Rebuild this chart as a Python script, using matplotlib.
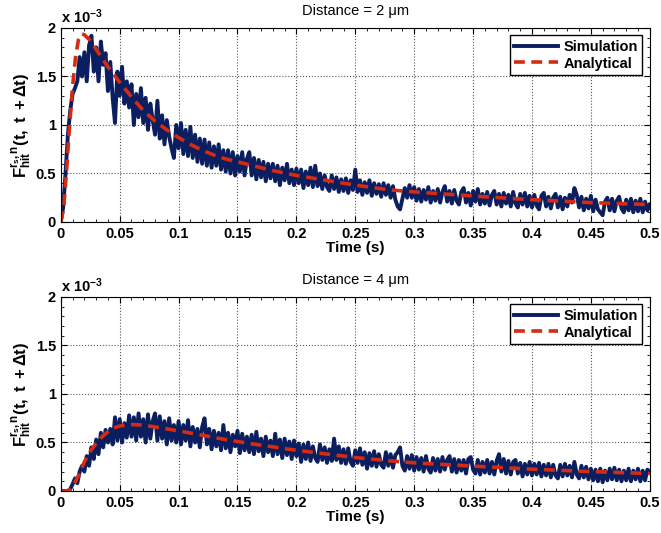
import numpy as np
import matplotlib
matplotlib.use("Agg")
import matplotlib.pyplot as plt
from matplotlib.ticker import MultipleLocator

plt.rcParams['font.family'] = ['Liberation Sans', 'DejaVu Sans']
plt.rcParams['mathtext.fontset'] = 'custom'
plt.rcParams['mathtext.rm'] = 'Liberation Sans'
plt.rcParams['mathtext.bf'] = 'Liberation Sans:bold'
plt.rcParams['mathtext.it'] = 'Liberation Sans:italic'

# simulation sampled every 2 ms, values in units of 1e-3
dt = 0.002
sim_2um = [
    0.0, 0.15, 0.5, 0.9, 1.15, 1.32, 1.38, 1.45, 1.70, 1.50,
    1.75, 1.45, 1.82, 1.92, 1.55, 1.80, 1.45, 1.86, 1.62, 1.74,
    1.35, 1.65, 1.28, 1.02, 1.55, 1.30, 1.60, 1.22, 1.45, 1.18,
    1.42, 1.00, 1.32, 1.08, 1.38, 1.02, 1.28, 0.95, 1.22, 1.05,
    0.90, 1.25, 0.86, 1.10, 0.80, 1.05, 0.88, 0.76, 0.66, 1.00,
    0.76, 1.02, 0.70, 0.95, 0.68, 0.98, 0.66, 0.90, 0.62, 0.86,
    0.60, 0.85, 0.58, 0.82, 0.56, 0.78, 0.58, 0.80, 0.54, 0.74,
    0.52, 0.74, 0.50, 0.72, 0.48, 0.68, 0.52, 0.72, 0.48, 0.65,
    0.72, 0.48, 0.66, 0.44, 0.64, 0.46, 0.62, 0.42, 0.60, 0.45,
    0.60, 0.42, 0.58, 0.38, 0.56, 0.43, 0.60, 0.40, 0.54, 0.38,
    0.55, 0.40, 0.54, 0.35, 0.52, 0.38, 0.56, 0.36, 0.58, 0.37,
    0.50, 0.34, 0.48, 0.36, 0.32, 0.48, 0.34, 0.46, 0.31, 0.44,
    0.32, 0.45, 0.30, 0.43, 0.33, 0.54, 0.31, 0.43, 0.28, 0.41,
    0.30, 0.43, 0.27, 0.40, 0.29, 0.39, 0.26, 0.40, 0.28, 0.38,
    0.25, 0.37, 0.23, 0.16, 0.13, 0.24, 0.35, 0.25, 0.38, 0.25,
    0.36, 0.22, 0.34, 0.21, 0.33, 0.23, 0.36, 0.20, 0.32, 0.22,
    0.34, 0.20, 0.31, 0.37, 0.21, 0.32, 0.19, 0.33, 0.22, 0.18,
    0.31, 0.35, 0.20, 0.30, 0.17, 0.32, 0.21, 0.34, 0.18, 0.29,
    0.19, 0.31, 0.17, 0.28, 0.32, 0.18, 0.29, 0.16, 0.30, 0.19,
    0.28, 0.16, 0.31, 0.19, 0.15, 0.29, 0.18, 0.30, 0.16, 0.27,
    0.15, 0.28, 0.17, 0.13, 0.27, 0.30, 0.16, 0.26, 0.14, 0.25,
    0.29, 0.15, 0.26, 0.13, 0.25, 0.16, 0.28, 0.20, 0.35, 0.28,
    0.15, 0.26, 0.12, 0.24, 0.14, 0.27, 0.11, 0.23, 0.13, 0.10,
    0.07, 0.21, 0.25, 0.12, 0.24, 0.11, 0.22, 0.26, 0.14, 0.10,
    0.23, 0.12, 0.24, 0.10, 0.22, 0.11, 0.24, 0.10, 0.21, 0.12,
    0.18,
]
sim_4um = [
    0.0, 0.0, 0.0, 0.0, 0.02, 0.07, 0.13, 0.08, 0.20, 0.26,
    0.20, 0.36, 0.26, 0.45, 0.33, 0.53, 0.38, 0.60, 0.45, 0.63,
    0.50, 0.64, 0.48, 0.76, 0.52, 0.74, 0.50, 0.70, 0.55, 0.78,
    0.56, 0.76, 0.52, 0.80, 0.56, 0.74, 0.50, 0.79, 0.54, 0.72,
    0.80, 0.52, 0.77, 0.54, 0.72, 0.48, 0.75, 0.52, 0.68, 0.50,
    0.72, 0.48, 0.68, 0.52, 0.73, 0.46, 0.66, 0.50, 0.64, 0.45,
    0.66, 0.75, 0.48, 0.64, 0.43, 0.62, 0.46, 0.60, 0.42, 0.68,
    0.44, 0.60, 0.40, 0.58, 0.46, 0.62, 0.39, 0.59, 0.42, 0.56,
    0.40, 0.58, 0.38, 0.61, 0.41, 0.54, 0.36, 0.56, 0.40, 0.52,
    0.36, 0.59, 0.38, 0.53, 0.34, 0.54, 0.37, 0.51, 0.33, 0.52,
    0.36, 0.49, 0.30, 0.48, 0.33, 0.50, 0.31, 0.46, 0.34, 0.30,
    0.48, 0.32, 0.45, 0.29, 0.43, 0.31, 0.54, 0.32, 0.46, 0.29,
    0.43, 0.28, 0.44, 0.30, 0.26, 0.42, 0.29, 0.44, 0.27, 0.40,
    0.23, 0.39, 0.26, 0.41, 0.25, 0.38, 0.27, 0.24, 0.40, 0.26,
    0.38, 0.24, 0.37, 0.40, 0.45, 0.26, 0.21, 0.36, 0.23, 0.37,
    0.21, 0.35, 0.22, 0.34, 0.20, 0.36, 0.23, 0.19, 0.34, 0.21,
    0.33, 0.20, 0.35, 0.22, 0.32, 0.36, 0.20, 0.33, 0.19, 0.32,
    0.21, 0.32, 0.18, 0.33, 0.35, 0.22, 0.18, 0.32, 0.17, 0.30,
    0.19, 0.32, 0.18, 0.30, 0.17, 0.31, 0.38, 0.20, 0.33, 0.18,
    0.31, 0.17, 0.30, 0.32, 0.18, 0.29, 0.15, 0.28, 0.17, 0.30,
    0.16, 0.28, 0.17, 0.29, 0.15, 0.27, 0.16, 0.28, 0.14, 0.27,
    0.16, 0.13, 0.27, 0.15, 0.28, 0.16, 0.26, 0.14, 0.30, 0.17,
    0.13, 0.26, 0.14, 0.25, 0.12, 0.23, 0.11, 0.22, 0.10, 0.23,
    0.09, 0.21, 0.11, 0.23, 0.12, 0.24, 0.11, 0.22, 0.10, 0.21,
    0.11, 0.23, 0.10, 0.21, 0.12, 0.23, 0.10, 0.21, 0.11, 0.22,
    0.20,
]

# analytical curves (time in s, value in 1e-3)
ana_t_2um = [0, 0.0025, 0.005, 0.0075, 0.01, 0.0125, 0.015, 0.0175, 0.02, 0.025,
             0.03, 0.035, 0.04, 0.045, 0.05, 0.06, 0.07, 0.08, 0.09, 0.1,
             0.11, 0.12, 0.13, 0.14, 0.15, 0.16, 0.18, 0.2, 0.22, 0.25,
             0.28, 0.3, 0.33, 0.36, 0.4, 0.45, 0.5]
ana_v_2um = [0, 0.15, 0.55, 1.0, 1.4, 1.7, 1.88, 1.94, 1.93, 1.87,
             1.78, 1.69, 1.60, 1.52, 1.44, 1.29, 1.15, 1.04, 0.95, 0.87,
             0.80, 0.74, 0.69, 0.65, 0.62, 0.59, 0.53, 0.48, 0.44, 0.38,
             0.33, 0.31, 0.285, 0.26, 0.23, 0.20, 0.18]
ana_t_4um = [0, 0.005, 0.0075, 0.01, 0.0125, 0.015, 0.0175, 0.02, 0.025, 0.03,
             0.035, 0.04, 0.045, 0.05, 0.055, 0.06, 0.07, 0.08, 0.09, 0.1,
             0.12, 0.14, 0.16, 0.18, 0.2, 0.22, 0.25, 0.28, 0.3, 0.33,
             0.36, 0.4, 0.45, 0.5]
ana_v_4um = [0, 0.0, 0.01, 0.05, 0.10, 0.16, 0.23, 0.30, 0.41, 0.49,
             0.56, 0.61, 0.65, 0.67, 0.68, 0.685, 0.68, 0.66, 0.64, 0.62,
             0.575, 0.53, 0.49, 0.455, 0.42, 0.39, 0.345, 0.31, 0.29, 0.27,
             0.25, 0.225, 0.20, 0.18]

titles = ['Distance = 2 \u03bcm', 'Distance = 4 \u03bcm']
xticks = [0, 0.05, 0.1, 0.15, 0.2, 0.25, 0.3, 0.35, 0.4, 0.45, 0.5]
xticklabels = ['0', '0.05', '0.1', '0.15', '0.2', '0.25', '0.3', '0.35', '0.4', '0.45', '0.5']
yticks = [0, 0.5, 1, 1.5, 2]
yticklabels = ['0', '0.5', '1', '1.5', '2']

sim_color = '#0b1f60'
ana_color = '#d42b12'

fig = plt.figure(figsize=(6.61, 5.33), dpi=100)
axes = [fig.add_axes([0.092, 0.5835, 0.891, 0.364]),
        fig.add_axes([0.092, 0.0788, 0.891, 0.364])]

sims = [sim_2um, sim_4um]
anas = [(ana_t_2um, ana_v_2um), (ana_t_4um, ana_v_4um)]

for ax, sim, (at, av), title in zip(axes, sims, anas, titles):
    t = np.arange(len(sim)) * dt
    ax.plot(t, sim, color=sim_color, lw=2.8, label='Simulation')
    ax.plot(at, av, color=ana_color, lw=2.6, ls=(0, (3, 1.8)), label='Analytical')
    ax.set_xlim(0, 0.5)
    ax.set_ylim(0, 2)
    ax.set_xticks(xticks)
    ax.set_xticklabels(xticklabels)
    ax.set_yticks(yticks)
    ax.set_yticklabels(yticklabels)
    ax.xaxis.set_minor_locator(MultipleLocator(0.01))
    ax.yaxis.set_minor_locator(MultipleLocator(0.1))
    ax.tick_params(which='both', direction='in', top=True, right=True,
                   labelsize=10.5)
    ax.tick_params(which='major', length=4)
    ax.tick_params(which='minor', length=2)
    for lab in ax.get_xticklabels() + ax.get_yticklabels():
        lab.set_fontweight('bold')
    ax.grid(True, which='major', ls=':', color='#555555', lw=0.8)
    ax.set_xlabel('Time (s)', fontweight='bold', fontsize=11, labelpad=0)
    ax.set_ylabel(r'$\mathbf{F^{r_s,n}_{hit}(t,\ t\ +\Delta t)}$', fontsize=12, labelpad=2)
    ax.set_title(title, fontsize=10.5, pad=9)
    ax.text(0.0, 1.01, r'x 10$^{\mathbf{-3}}$', transform=ax.transAxes,
            fontsize=10.5, fontweight='bold', ha='left', va='bottom')
    leg = ax.legend(loc='upper right', fancybox=False, edgecolor='black',
                    framealpha=1, prop={'weight': 'bold', 'size': 10.5},
                    handlelength=3, borderpad=0.3, labelspacing=0.2,
                    handletextpad=0.4)
    leg.get_frame().set_linewidth(1.0)

fig.savefig('out.png', dpi=100)
